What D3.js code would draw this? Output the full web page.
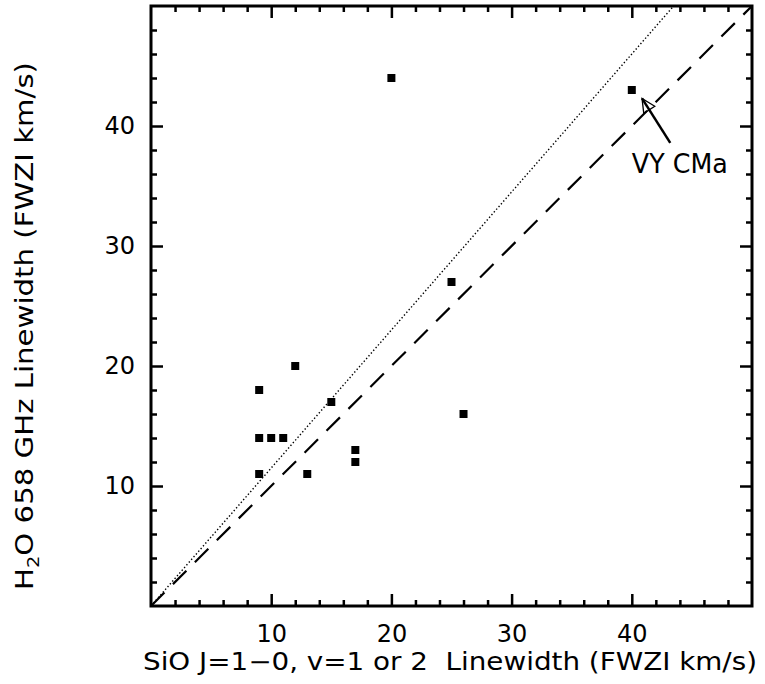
<!DOCTYPE html>
<html>
<head>
<meta charset="utf-8">
<script src="https://cdn.jsdelivr.net/npm/d3@7"></script>
<style>
  body { margin: 0; background: #fff; }
  text { font-family: "DejaVu Sans", sans-serif; fill: #000; white-space: pre; }
</style>
</head>
<body>
<div id="chart"></div>
<script>
// SiO vs H2O linewidths (FWZI, km/s)
const sioWidth = [20, 40, 25, 26, 12, 9, 15, 9, 10, 11, 17, 17, 9, 13];
const h2oWidth = [44, 43, 27, 16, 20, 18, 17, 14, 14, 14, 13, 12, 11, 11];
const majorTicks = [10, 20, 30, 40];
const minorTicks = d3.range(2, 50, 2).filter((v) => v % 10 !== 0);
const dottedSlope = 1.15;   // y = 1.15 x
const dashedSlope = 1;      // y = x
const annotation = { label: "VY CMa", tip: [40.85, 42.3], tail: [43.2, 38.6], text: [40.0, 36.1] };

const width = 765;
const height = 684;
const margin = { left: 151, right: 13, top: 6, bottom: 78 };

const svg = d3.select("#chart")
  .append("svg")
    .attr("width", width)
    .attr("height", height);

const x = d3.scaleLinear()
  .domain([0, 50])
  .range([margin.left, width - margin.right]);
const y = d3.scaleLinear()
  .domain([0, 50])
  .range([height - margin.bottom, margin.top]);

// reference lines
const line = d3.line()
  .x((d) => x(d[0]))
  .y((d) => y(d[1]));

svg.append("path")
  .datum([[0, 0], [50 / dottedSlope, 50]])
    .attr("d", line)
    .style("fill", "none")
    .style("stroke", "#000")
    .style("stroke-width", 1.4)
    .style("stroke-dasharray", "1.4,2.2");

svg.append("path")
  .datum([[0, 0], [50 / dashedSlope, 50]])
    .attr("d", line)
    .style("fill", "none")
    .style("stroke", "#000")
    .style("stroke-width", 2.2)
    .style("stroke-dasharray", "19,12");

// points
const pts = sioWidth.map((v, i) => ({ sx: v, hy: h2oWidth[i] }));
svg.append("g")
  .selectAll("rect")
  .data(pts)
  .join("rect")
    .attr("x", (d) => x(d.sx) - 4)
    .attr("y", (d) => y(d.hy) - 4)
    .attr("width", 8)
    .attr("height", 8)
    .style("fill", "#000");

// axes: major + minor ticks on all four sides, pointing inward
function styleAxis(g) {
  g.select(".domain").remove();
  g.selectAll(".tick line").style("stroke", "#000").style("stroke-width", 2.5);
  g.selectAll(".tick text").style("font-size", "24px").style("font-family", "DejaVu Sans, sans-serif");
}

const x0 = y.range()[0];
const y0 = x.range()[0];
const x1 = y.range()[1];
const y1 = x.range()[1];

svg.append("g")
  .attr("transform", `translate(0,${x0})`)
  .call(d3.axisBottom(x).tickValues(majorTicks).tickSize(-12).tickPadding(19))
  .call(styleAxis);
svg.append("g")
  .attr("transform", `translate(0,${x0})`)
  .call(d3.axisBottom(x).tickValues(minorTicks).tickSize(-6).tickFormat(""))
  .call(styleAxis);
svg.append("g")
  .attr("transform", `translate(0,${x1})`)
  .call(d3.axisTop(x).tickValues(majorTicks).tickSize(-12).tickFormat(""))
  .call(styleAxis);
svg.append("g")
  .attr("transform", `translate(0,${x1})`)
  .call(d3.axisTop(x).tickValues(minorTicks).tickSize(-6).tickFormat(""))
  .call(styleAxis);

svg.append("g")
  .attr("transform", `translate(${y0},0)`)
  .call(d3.axisLeft(y).tickValues(majorTicks).tickSize(-12).tickPadding(16))
  .call(styleAxis);
svg.append("g")
  .attr("transform", `translate(${y0},0)`)
  .call(d3.axisLeft(y).tickValues(minorTicks).tickSize(-6).tickFormat(""))
  .call(styleAxis);
svg.append("g")
  .attr("transform", `translate(${y1},0)`)
  .call(d3.axisRight(y).tickValues(majorTicks).tickSize(-12).tickFormat(""))
  .call(styleAxis);
svg.append("g")
  .attr("transform", `translate(${y1},0)`)
  .call(d3.axisRight(y).tickValues(minorTicks).tickSize(-6).tickFormat(""))
  .call(styleAxis);

// frame
svg.append("rect")
  .attr("x", y0)
  .attr("y", x1)
  .attr("width", y1 - y0)
  .attr("height", x0 - x1)
  .style("fill", "none")
  .style("stroke", "#000")
  .style("stroke-width", 3);

// annotation arrow
svg.append("line")
  .attr("x1", x(annotation.tail[0]))
  .attr("y1", y(annotation.tail[1]))
  .attr("x2", x(annotation.tip[0]))
  .attr("y2", y(annotation.tip[1]))
  .style("stroke", "#000")
  .style("stroke-width", 2.5);

const ang = Math.atan2(y(annotation.tail[1]) - y(annotation.tip[1]), x(annotation.tail[0]) - x(annotation.tip[0]));
const tx = x(annotation.tip[0]);
const ty = y(annotation.tip[1]);
const headLen = 15;
const spread = 0.45;
svg.append("path")
  .attr("d", `M${tx + headLen * Math.cos(ang - spread)},${ty + headLen * Math.sin(ang - spread)}` +
             `L${tx},${ty}` +
             `L${tx + headLen * Math.cos(ang + spread)},${ty + headLen * Math.sin(ang + spread)}Z`)
  .style("fill", "none")
  .style("stroke", "#000")
  .style("stroke-width", 1.3);

svg.append("text")
  .attr("x", x(annotation.text[0]))
  .attr("y", y(annotation.text[1]))
  .attr("textLength", 96)
  .attr("lengthAdjust", "spacingAndGlyphs")
  .style("font-size", "26px")
  .text(annotation.label);

// axis titles
svg.append("text")
  .attr("x", 143)
  .attr("y", 670)
  .attr("textLength", 614)
  .attr("lengthAdjust", "spacingAndGlyphs")
  .style("font-size", "24px")
  .text("SiO J=1\u22120, v=1 or 2\u00a0\u00a0Linewidth (FWZI km/s)");

const yt = svg.append("text")
  .attr("transform", "translate(33,590) rotate(-90)")
  .attr("textLength", 528)
  .attr("lengthAdjust", "spacingAndGlyphs")
  .style("font-size", "24px");
yt.append("tspan").text("H");
yt.append("tspan").attr("dy", 6).style("font-size", "16px").text("2");
yt.append("tspan").attr("dy", -6).text("O 658 GHz Linewidth (FWZI km/s)");
</script>
</body>
</html>
